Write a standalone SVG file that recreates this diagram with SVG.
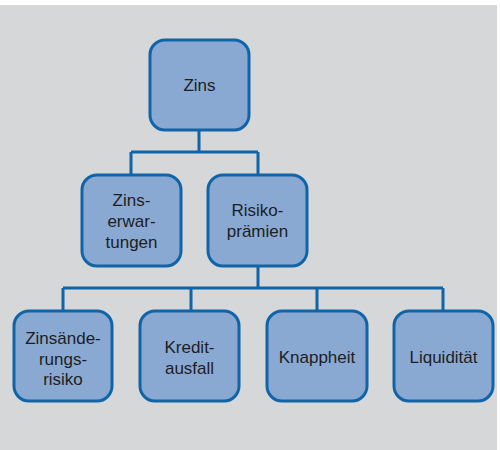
<svg xmlns="http://www.w3.org/2000/svg" width="500" height="450" viewBox="0 0 500 450">
<style>
.box{fill:#89a9d3;stroke:#1064a8;stroke-width:3}
.lbl{font-family:"Liberation Sans",Arial,sans-serif;font-size:17px;fill:#1e1e1e;text-anchor:middle;dominant-baseline:central}
.con{fill:none;stroke:#1064a8;stroke-width:3}
</style>
<rect x="0" y="0" width="500" height="450" fill="#fff"/>
<rect x="0" y="5" width="497" height="445" fill="#d6d7d9"/>
<g id="connectors">
<path class="con" d="M199,130 V152 M131,152 H258 M131,152 V175 M258,152 V175"/>
<path class="con" d="M258,266 V288 M63,288 H443 M63,288 V311 M191,288 V311 M317,288 V311 M443,288 V311"/>
</g>
<g id="zins"><rect class="box" x="150" y="40" width="99" height="90" rx="15"/><text class="lbl" x="199.5" y="85">Zins</text></g>
<g id="zinserwartungen"><rect class="box" x="82" y="175" width="99" height="91" rx="15"/><text class="lbl" x="131.5" y="200">Zins-</text><text class="lbl" x="131.5" y="221">erwar-</text><text class="lbl" x="131.5" y="242">tungen</text></g>
<g id="risikopraemien"><rect class="box" x="208" y="175" width="99" height="91" rx="15"/><text class="lbl" x="257.5" y="210">Risiko-</text><text class="lbl" x="257.5" y="231">prämien</text></g>
<g id="zinsaenderungsrisiko"><rect class="box" x="14" y="311" width="98" height="90" rx="15"/><text class="lbl" x="63" y="338.5">Zinsände-</text><text class="lbl" x="63" y="359">rungs-</text><text class="lbl" x="63" y="379.5">risiko</text></g>
<g id="kreditausfall"><rect class="box" x="140" y="311" width="99" height="90" rx="15"/><text class="lbl" x="189.5" y="347.5">Kredit-</text><text class="lbl" x="189.5" y="368">ausfall</text></g>
<g id="knappheit"><rect class="box" x="267" y="311" width="100" height="90" rx="15"/><text class="lbl" x="317" y="357">Knappheit</text></g>
<g id="liquiditaet"><rect class="box" x="394" y="311" width="99" height="90" rx="15"/><text class="lbl" x="443.5" y="357">Liquidität</text></g>
</svg>
